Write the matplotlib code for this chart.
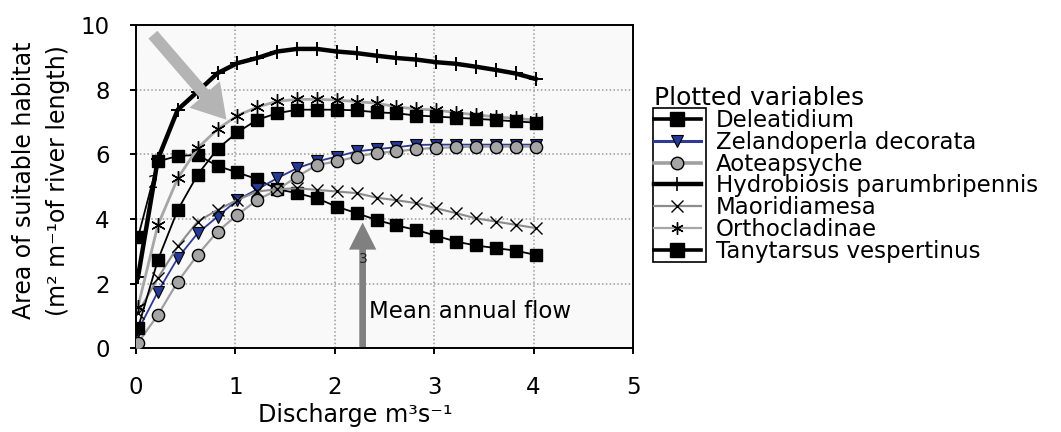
import matplotlib
matplotlib.use("Agg")
import matplotlib.pyplot as plt
from matplotlib.lines import Line2D
from matplotlib.patches import Rectangle

# ---------------- data ----------------
discharge = [0.02, 0.22, 0.42, 0.62, 0.82, 1.02, 1.22, 1.42, 1.62, 1.82, 2.02,
             2.22, 2.42, 2.62, 2.82, 3.02, 3.22, 3.42, 3.62, 3.82, 4.02]

deleatidium = [3.43, 5.78, 5.95, 5.98, 5.64, 5.44, 5.23, 4.92, 4.80, 4.64, 4.38,
               4.18, 3.97, 3.80, 3.66, 3.48, 3.30, 3.18, 3.10, 3.02, 2.89]
zelandoperla = [0.55, 1.75, 2.79, 3.56, 4.07, 4.59, 4.92, 5.26, 5.57, 5.78, 5.93,
                6.09, 6.16, 6.22, 6.29, 6.30, 6.30, 6.30, 6.30, 6.30, 6.30]
aoteapsyche = [0.17, 1.03, 2.06, 2.89, 3.61, 4.13, 4.59, 4.90, 5.31, 5.67, 5.78,
               5.93, 6.04, 6.09, 6.16, 6.20, 6.22, 6.24, 6.24, 6.24, 6.24]
hydrobiosis = [2.20, 5.85, 7.38, 7.94, 8.51, 8.82, 8.98, 9.18, 9.26, 9.26, 9.18,
               9.13, 9.05, 8.98, 8.93, 8.85, 8.80, 8.71, 8.61, 8.50, 8.33]
maoridiamesa = [1.10, 2.17, 3.15, 3.92, 4.28, 4.59, 4.85, 4.92, 4.95, 4.90, 4.85,
                4.80, 4.66, 4.58, 4.49, 4.33, 4.18, 4.02, 3.92, 3.82, 3.72]
orthocladinae = [1.29, 3.81, 5.26, 6.19, 6.78, 7.20, 7.46, 7.64, 7.70, 7.70, 7.68,
                 7.63, 7.58, 7.47, 7.40, 7.37, 7.29, 7.22, 7.16, 7.11, 7.06]
tanytarsus = [0.62, 2.73, 4.28, 5.37, 6.17, 6.68, 7.07, 7.27, 7.38, 7.38, 7.38,
              7.36, 7.30, 7.27, 7.20, 7.17, 7.13, 7.10, 7.06, 7.02, 6.98]

series_names = ["Deleatidium", "Zelandoperla decorata", "Aoteapsyche",
                "Hydrobiosis parumbripennis", "Maoridiamesa", "Orthocladinae",
                "Tanytarsus vespertinus"]

x_ticks = [0, 1, 2, 3, 4, 5]
y_ticks = [0, 2, 4, 6, 8, 10]

mean_annual_flow = 2.28   # position of the vertical arrow
mean_arrow_tip = 3.89
big_arrow_tail = (0.17, 9.70)
big_arrow_tip = (0.91, 7.07)

# ---------------- figure ----------------
plt.rcParams["font.family"] = ["DejaVu Sans"]
plt.rcParams["font.size"] = 16.5

W, H = 1061, 432
fig = plt.figure(figsize=(W / 100, H / 100), dpi=100)
ax = fig.add_axes([136 / W, 1 - 348.3 / H, (633 - 136) / W, (348.3 - 25) / H])
ax.set_facecolor("#f9f9f9")

ax.set_xlim(0, 5)
ax.set_ylim(0, 10)
ax.set_xticks(x_ticks)
ax.set_yticks(y_ticks)
ax.tick_params(axis="both", direction="out", length=4, width=1.4,
               labelsize=16.5, color="black")
ax.tick_params(axis="x", pad=16)
ax.tick_params(axis="y", pad=15)
for s in ax.spines.values():
    s.set_linewidth(1.4)
    s.set_color("black")
ax.grid(True, linestyle=(0, (1, 1.5)), color="#9a9a9a", linewidth=1.1)
ax.set_axisbelow(True)

blue = "#2e3a93"
gray_line = "#a0a0a0"

ax.plot(discharge, deleatidium, color="black", lw=1.3, marker="s", ms=9.3,
        mfc="black", mec="black", zorder=3)
ax.plot(discharge, zelandoperla, color=blue, lw=1.3, marker="v", ms=8.8,
        mfc="#243a96", mec="black", mew=0.8, zorder=3)
ax.plot(discharge, aoteapsyche, color=gray_line, lw=1.6, marker="o", ms=8.8,
        mfc="#a5a5a5", mec="black", mew=1.0, zorder=3)
ax.plot(discharge, hydrobiosis, color="black", lw=3.2, marker="+", ms=10,
        mew=1.4, zorder=3)
ax.plot(discharge, maoridiamesa, color="#8c8c8c", lw=1.5, marker="x", ms=8.5,
        mec="black", mew=1.0, zorder=3)
ax.plot(discharge, orthocladinae, color="#a6a6a6", lw=2.0, marker=(6, 2, 0),
        ms=10.5, mec="black", mew=1.0, zorder=3)
ax.plot(discharge, tanytarsus, color="black", lw=1.3, marker="s", ms=9.3,
        mfc="black", mec="black", zorder=3)

# arrows and annotations
ax.annotate("", xy=big_arrow_tip, xytext=big_arrow_tail,
            arrowprops=dict(arrowstyle="simple,head_length=24,head_width=29,tail_width=8.5",
                            mutation_scale=1, shrinkA=0, shrinkB=0,
                            fc="#b4b4b4", ec="none"), zorder=5)
ax.annotate("", xy=(mean_annual_flow, mean_arrow_tip), xytext=(mean_annual_flow, 0.04),
            arrowprops=dict(arrowstyle="simple,head_length=19.5,head_width=19.7,tail_width=4.8",
                            mutation_scale=1, shrinkA=0, shrinkB=0,
                            fc="#808080", ec="none"), zorder=5)
ax.text(2.345, 0.93, "Mean annual flow", fontsize=16.5, va="baseline", ha="left", zorder=6)
ax.text(2.287, 2.75, "3", fontsize=10, color="#222222", ha="center", va="center", zorder=6)
ax.text(0.17, 5.1, "2", fontsize=12, color="black", ha="center", va="center", zorder=4)

# axis labels
ax.set_xlabel("Discharge m³s⁻¹", fontsize=17.2)
ax.xaxis.set_label_coords((355 - 136) / 497, (348.3 - 403) / 323.3)
ax.set_ylabel("Area of suitable habitat\n(m² m⁻¹of river length)", fontsize=17,
              linespacing=1.55)
ax.yaxis.set_label_coords((70 - 136) / 497, 0.52)

# legend
handles = [
    Line2D([], [], color="black", lw=2.6, marker="s", ms=9.5, mfc="black", mec="black"),
    Line2D([], [], color=blue, lw=2.2, marker="v", ms=9, mfc="#243a96", mec="black", mew=0.8),
    Line2D([], [], color=gray_line, lw=2.6, marker="o", ms=9, mfc="#a5a5a5", mec="black", mew=1.0),
    Line2D([], [], color="black", lw=3.2, marker="|", ms=10, mew=1.2, mec="black"),
    Line2D([], [], color="#8c8c8c", lw=1.6, marker="x", ms=8, mec="black", mew=1.0),
    Line2D([], [], color="#a6a6a6", lw=1.6, marker=(6, 2, 0), ms=9, mec="black", mew=1.0),
    Line2D([], [], color="black", lw=2.6, marker="s", ms=9.5, mfc="black", mec="black"),
]
leg = fig.legend(handles, series_names, loc="upper left",
                 bbox_to_anchor=(654 / W, 1 - 86 / H), frameon=False,
                 title="Plotted variables", title_fontsize=18, fontsize=16.5,
                 numpoints=1, handlelength=2.04, handletextpad=0.66,
                 labelspacing=-0.05, borderpad=0, borderaxespad=0)
leg._legend_box.align = "left"

fig.canvas.draw()
xs, ys = [], []
for h in leg.legend_handles:
    xy = h.get_transform().transform(h.get_xydata())
    xs.extend(xy[:, 0])
    ys.extend(xy[:, 1])
x0 = min(xs) - 1.5
x1 = max(xs) + 5.5
y_top = max(ys) + 10.7
y_bot = min(ys) - 11.7
inv = fig.transFigure.inverted()
(fx0, fy0), (fx1, fy1) = inv.transform([(x0, y_bot), (x1, y_top)])
fig.add_artist(Rectangle((fx0, fy0), fx1 - fx0, fy1 - fy0, transform=fig.transFigure,
                         fill=False, ec="black", lw=1.2))

fig.savefig("out.png", dpi=100)
